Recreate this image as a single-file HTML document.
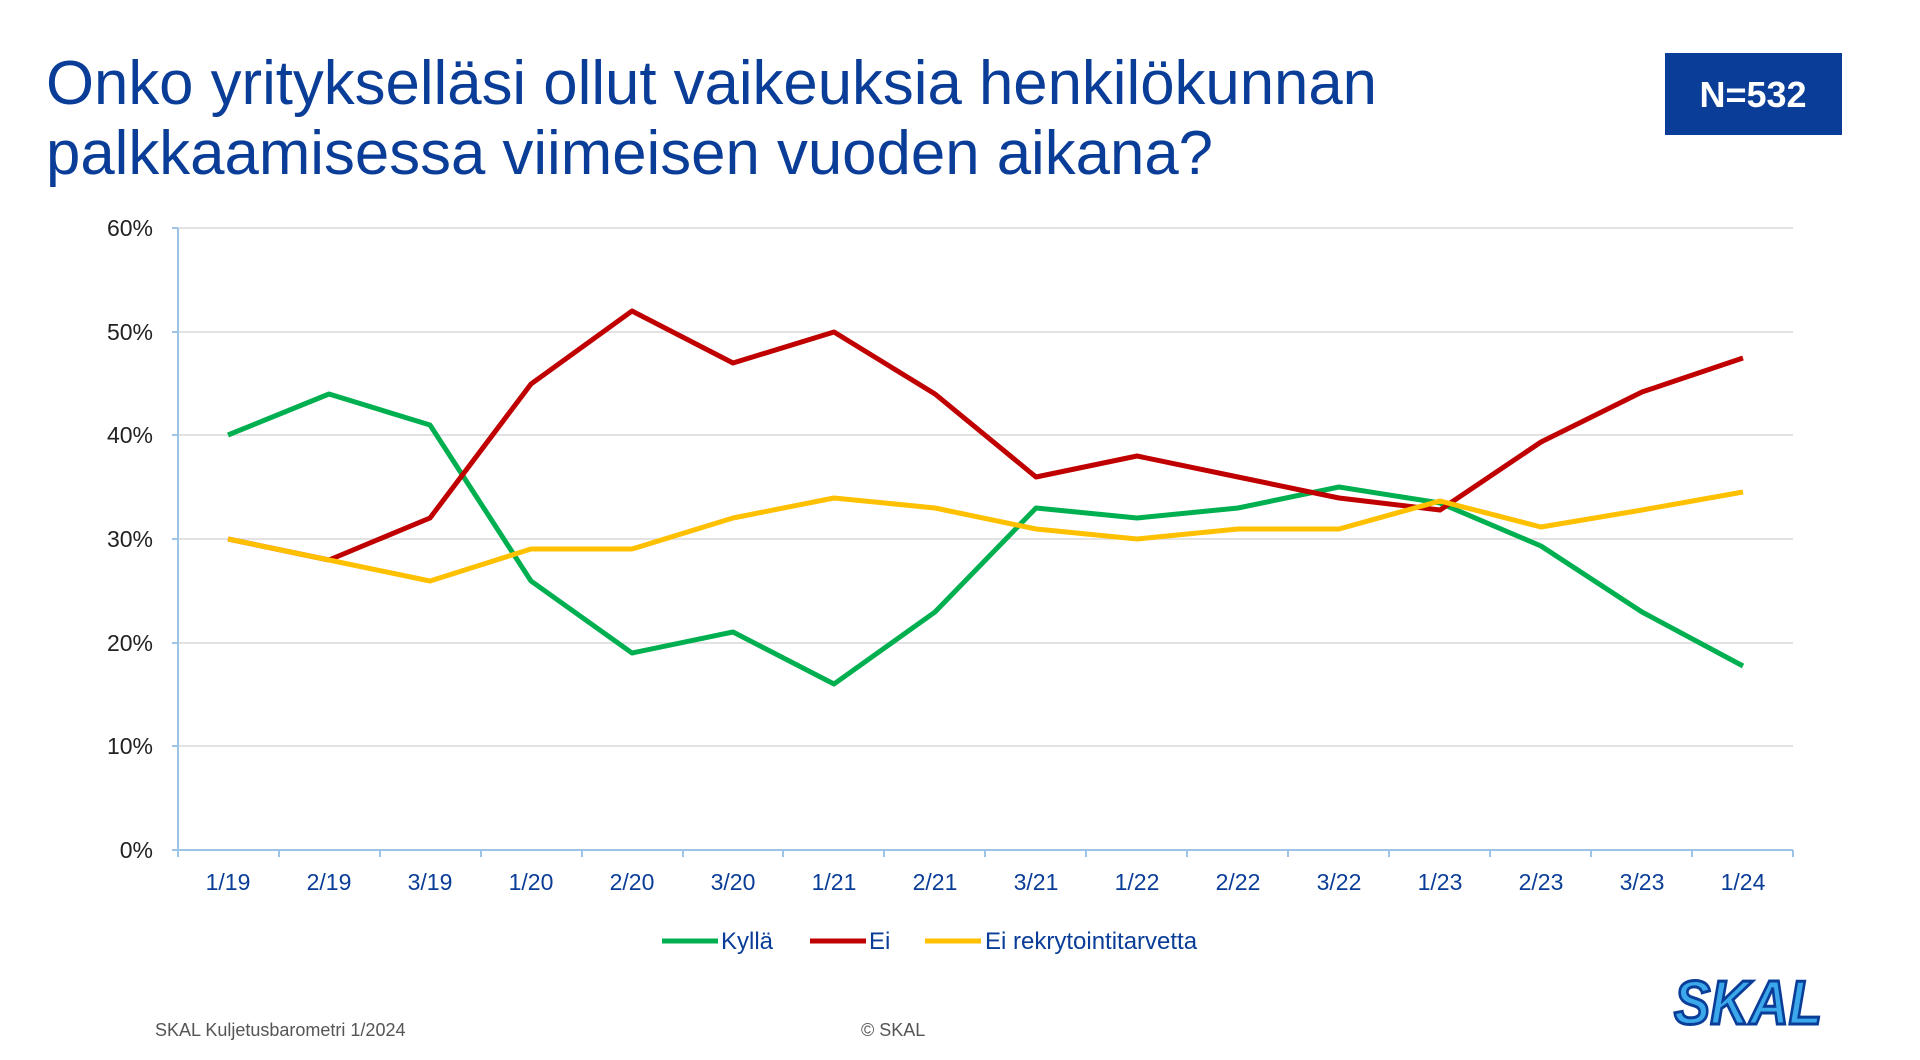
<!DOCTYPE html>
<html><head><meta charset="utf-8"><style>html,body{margin:0;padding:0;background:#fff}svg{display:block}</style></head>
<body>
<svg width="1920" height="1060" viewBox="0 0 1920 1060" xmlns="http://www.w3.org/2000/svg" font-family="Liberation Sans, Arial, sans-serif">
<rect width="1920" height="1060" fill="#fff"/>
<text x="46" y="104" font-size="62" fill="#0a3d97" textLength="1331" lengthAdjust="spacingAndGlyphs">Onko yritykselläsi ollut vaikeuksia henkilökunnan</text>
<text x="46" y="174" font-size="62" fill="#0a3d97" textLength="1167" lengthAdjust="spacingAndGlyphs">palkkaamisessa viimeisen vuoden aikana?</text>
<rect x="1665" y="53" width="177" height="82" fill="#0a3d97"/>
<text x="1753" y="107" font-size="36" font-weight="bold" fill="#fff" text-anchor="middle">N=532</text>
<g stroke="#d9d9d9" stroke-width="1.5">
<line x1="178" y1="228" x2="1793" y2="228"/><line x1="178" y1="332" x2="1793" y2="332"/><line x1="178" y1="435" x2="1793" y2="435"/><line x1="178" y1="539" x2="1793" y2="539"/><line x1="178" y1="643" x2="1793" y2="643"/><line x1="178" y1="746" x2="1793" y2="746"/>
</g>
<g stroke="#9dc3e6" stroke-width="2">
<line x1="178" y1="228" x2="178" y2="850"/><line x1="178" y1="850" x2="1793" y2="850"/>
<line x1="172" y1="228" x2="178" y2="228"/><line x1="172" y1="332" x2="178" y2="332"/><line x1="172" y1="435" x2="178" y2="435"/><line x1="172" y1="539" x2="178" y2="539"/><line x1="172" y1="643" x2="178" y2="643"/><line x1="172" y1="746" x2="178" y2="746"/><line x1="172" y1="850" x2="178" y2="850"/>
<path d="M178 850v7M279 850v7M380 850v7M481 850v7M582 850v7M683 850v7M783 850v7M884 850v7M985 850v7M1086 850v7M1187 850v7M1288 850v7M1389 850v7M1490 850v7M1591 850v7M1692 850v7M1793 850v7"/>
</g>
<g font-size="23" fill="#222" text-anchor="end">
<text x="153" y="236">60%</text><text x="153" y="340">50%</text><text x="153" y="443">40%</text><text x="153" y="547">30%</text><text x="153" y="651">20%</text><text x="153" y="754">10%</text><text x="153" y="858">0%</text>
</g>
<g font-size="23" fill="#0a3d97" text-anchor="middle">
<text x="228" y="890">1/19</text><text x="329" y="890">2/19</text><text x="430" y="890">3/19</text><text x="531" y="890">1/20</text><text x="632" y="890">2/20</text><text x="733" y="890">3/20</text><text x="834" y="890">1/21</text><text x="935" y="890">2/21</text><text x="1036" y="890">3/21</text><text x="1137" y="890">1/22</text><text x="1238" y="890">2/22</text><text x="1339" y="890">3/22</text><text x="1440" y="890">1/23</text><text x="1541" y="890">2/23</text><text x="1642" y="890">3/23</text><text x="1743" y="890">1/24</text>
</g>
<g fill="none" stroke-width="5" stroke-linejoin="round">
<polyline stroke="#00b050" points="228,435 329,394 430,425 531,581 632,653 733,632 834,684 935,612 1036,508 1137,518 1238,508 1339,487 1440,503 1541,546 1642,612 1743,666"/>
<polyline stroke="#c00000" points="228,539 329,560 430,518 531,384 632,311 733,363 834,332 935,394 1036,477 1137,456 1238,477 1339,498 1440,510 1541,442 1642,392 1743,358"/>
<polyline stroke="#ffc000" points="228,539 329,560 430,581 531,549 632,549 733,518 834,498 935,508 1036,529 1137,539 1238,529 1339,529 1440,501 1541,527 1642,510 1743,492"/>
</g>
<g stroke-width="5"><line x1="662" y1="941" x2="718" y2="941" stroke="#00b050"/><line x1="810" y1="941" x2="866" y2="941" stroke="#c00000"/><line x1="925" y1="941" x2="981" y2="941" stroke="#ffc000"/></g>
<g font-size="24" fill="#0a3d97"><text x="721" y="949">Kyllä</text><text x="869" y="949">Ei</text><text x="985" y="949">Ei rekrytointitarvetta</text></g>
<g font-size="18" fill="#555"><text x="155" y="1036">SKAL Kuljetusbarometri 1/2024</text><text x="861" y="1036">© SKAL</text></g>
<text x="1748" y="1024" font-size="62" font-weight="bold" font-style="italic" fill="#3aa8ea" stroke="#0a3d97" stroke-width="3" text-anchor="middle" textLength="148" lengthAdjust="spacingAndGlyphs">SKAL</text>
</svg>
</body></html>
